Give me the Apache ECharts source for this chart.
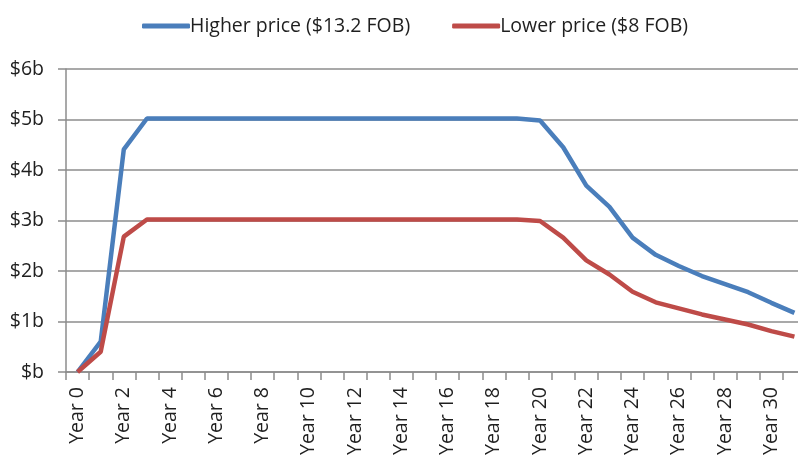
<!DOCTYPE html>
<html>
<head>
<meta charset="utf-8">
<script src="https://cdn.jsdelivr.net/npm/echarts@6/dist/echarts.min.js"></script>
<style>
  html, body { margin: 0; padding: 0; background: #fff; }
  #container { width: 798px; height: 455px; }
</style>
</head>
<body>
<div id="container"></div>
<script>
// years 0..31
const years = [
  'Year 0', 'Year 1', 'Year 2', 'Year 3', 'Year 4', 'Year 5', 'Year 6', 'Year 7',
  'Year 8', 'Year 9', 'Year 10', 'Year 11', 'Year 12', 'Year 13', 'Year 14', 'Year 15',
  'Year 16', 'Year 17', 'Year 18', 'Year 19', 'Year 20', 'Year 21', 'Year 22', 'Year 23',
  'Year 24', 'Year 25', 'Year 26', 'Year 27', 'Year 28', 'Year 29', 'Year 30', 'Year 31'
]
// $ billions
const higherPrice = [
  0, 0.6, 4.41, 5.02, 5.02, 5.02, 5.02, 5.02,
  5.02, 5.02, 5.02, 5.02, 5.02, 5.02, 5.02, 5.02,
  5.02, 5.02, 5.02, 5.02, 4.98, 4.45, 3.69, 3.27,
  2.66, 2.32, 2.1, 1.9, 1.74, 1.58, 1.37, 1.17
]
const lowerPrice = [
  0, 0.4, 2.68, 3.02, 3.02, 3.02, 3.02, 3.02,
  3.02, 3.02, 3.02, 3.02, 3.02, 3.02, 3.02, 3.02,
  3.02, 3.02, 3.02, 3.02, 2.99, 2.66, 2.21, 1.93,
  1.59, 1.38, 1.26, 1.14, 1.04, 0.94, 0.81, 0.7
]
const seriesNames = ['Higher price ($13.2 FOB)', 'Lower price ($8 FOB)']

const font = 'Open Sans'
const textColor = '#1f1f1f'
const gridColor = '#8c8c8c'

let myChart = echarts.init(document.getElementById('container'), null, { renderer: 'canvas' })
let option = {
  animation: false,
  color: ['#4a7ebb', '#be4b48'],
  legend: {
    top: 11,
    left: 137,
    itemWidth: 48,
    itemHeight: 5,
    itemGap: 42,
    icon: 'roundRect',
    textStyle: { fontFamily: font, fontSize: 19.5, color: textColor, padding: [0, 0, 0, -5] },
    data: seriesNames
  },
  grid: {
    left: 66,
    right: -8,
    top: 69,
    bottom: 83,
    containLabel: false,
    outerBoundsMode: 'none'
  },
  xAxis: {
    type: 'category',
    data: years,
    boundaryGap: true,
    axisLine: { lineStyle: { color: gridColor, width: 1.5 } },
    axisTick: { show: true, interval: 0, length: 8, lineStyle: { color: gridColor, width: 1.5 } },
    axisLabel: {
      interval: 1,
      rotate: 90,
      margin: 15,
      fontFamily: font,
      fontSize: 19.5,
      color: textColor
    },
    splitLine: { show: false }
  },
  yAxis: {
    type: 'value',
    min: 0,
    max: 6,
    interval: 1,
    axisLine: { show: true, lineStyle: { color: gridColor, width: 1.5 } },
    axisTick: { show: true, inside: false, length: 8, lineStyle: { color: gridColor, width: 1.5 } },
    axisLabel: {
      margin: 22,
      fontFamily: font,
      fontSize: 19.5,
      color: textColor,
      formatter: v => (v === 0 ? '$b' : '$' + v + 'b')
    },
    splitLine: { show: true, lineStyle: { color: gridColor, width: 1.5 } }
  },
  series: [
    {
      name: seriesNames[0],
      type: 'line',
      data: higherPrice,
      showSymbol: false,
      symbol: 'none',
      lineStyle: { width: 4.5 }
    },
    {
      name: seriesNames[1],
      type: 'line',
      data: lowerPrice,
      showSymbol: false,
      symbol: 'none',
      lineStyle: { width: 4.5 }
    }
  ]
}
myChart.setOption(option)
</script>
</body>
</html>
